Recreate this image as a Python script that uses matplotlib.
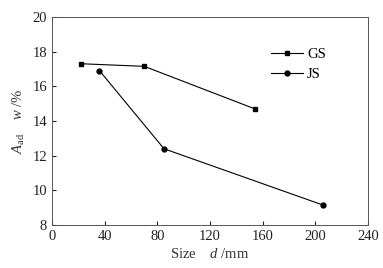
import matplotlib
matplotlib.use("Agg")
import matplotlib.pyplot as plt

plt.rcParams['font.family'] = ['Liberation Serif', 'DejaVu Serif']
plt.rcParams['mathtext.fontset'] = 'custom'
plt.rcParams['mathtext.rm'] = 'Liberation Serif'
plt.rcParams['mathtext.it'] = 'Liberation Serif:italic'

# GS / JS series
gs_x = [22, 70, 154]
gs_y = [17.3, 17.15, 14.7]
js_x = [36, 85, 206]
js_y = [16.9, 12.4, 9.15]

xticks = [0, 40, 80, 120, 160, 200, 240]
yticks = [8, 10, 12, 14, 16, 18, 20]

fig = plt.figure(figsize=(3.83, 2.68), dpi=100)
ax = fig.add_axes([0.136, 0.160, 0.825, 0.777])

ax.plot(gs_x, gs_y, color='black', lw=0.8, marker='s', ms=3.5, label='GS')
ax.plot(js_x, js_y, color='black', lw=0.8, marker='o', ms=3.5, label='JS')

ax.set_xlim(0, 240)
ax.set_ylim(8, 20)
ax.set_xticks(xticks)
ax.set_yticks(yticks)
ax.tick_params(direction='in', length=3, width=0.8, labelsize=10.5, colors='#222222')
for s in ax.spines.values():
    s.set_linewidth(0.7)
    s.set_color('#555555')

ax.set_xlabel(r'Size    $d$ /mm', fontsize=10.5, color='#333333', labelpad=3)
ax.set_ylabel(r'$A_{\mathrm{ad}}$    $w$ /%', fontsize=10.5, color='#333333', labelpad=4)

ax.legend(loc='upper left', bbox_to_anchor=(0.65, 0.915), frameon=False,
          fontsize=10.5, handlelength=2.2, labelspacing=0.5, handletextpad=0.3)

fig.savefig('out.png', dpi=100)
